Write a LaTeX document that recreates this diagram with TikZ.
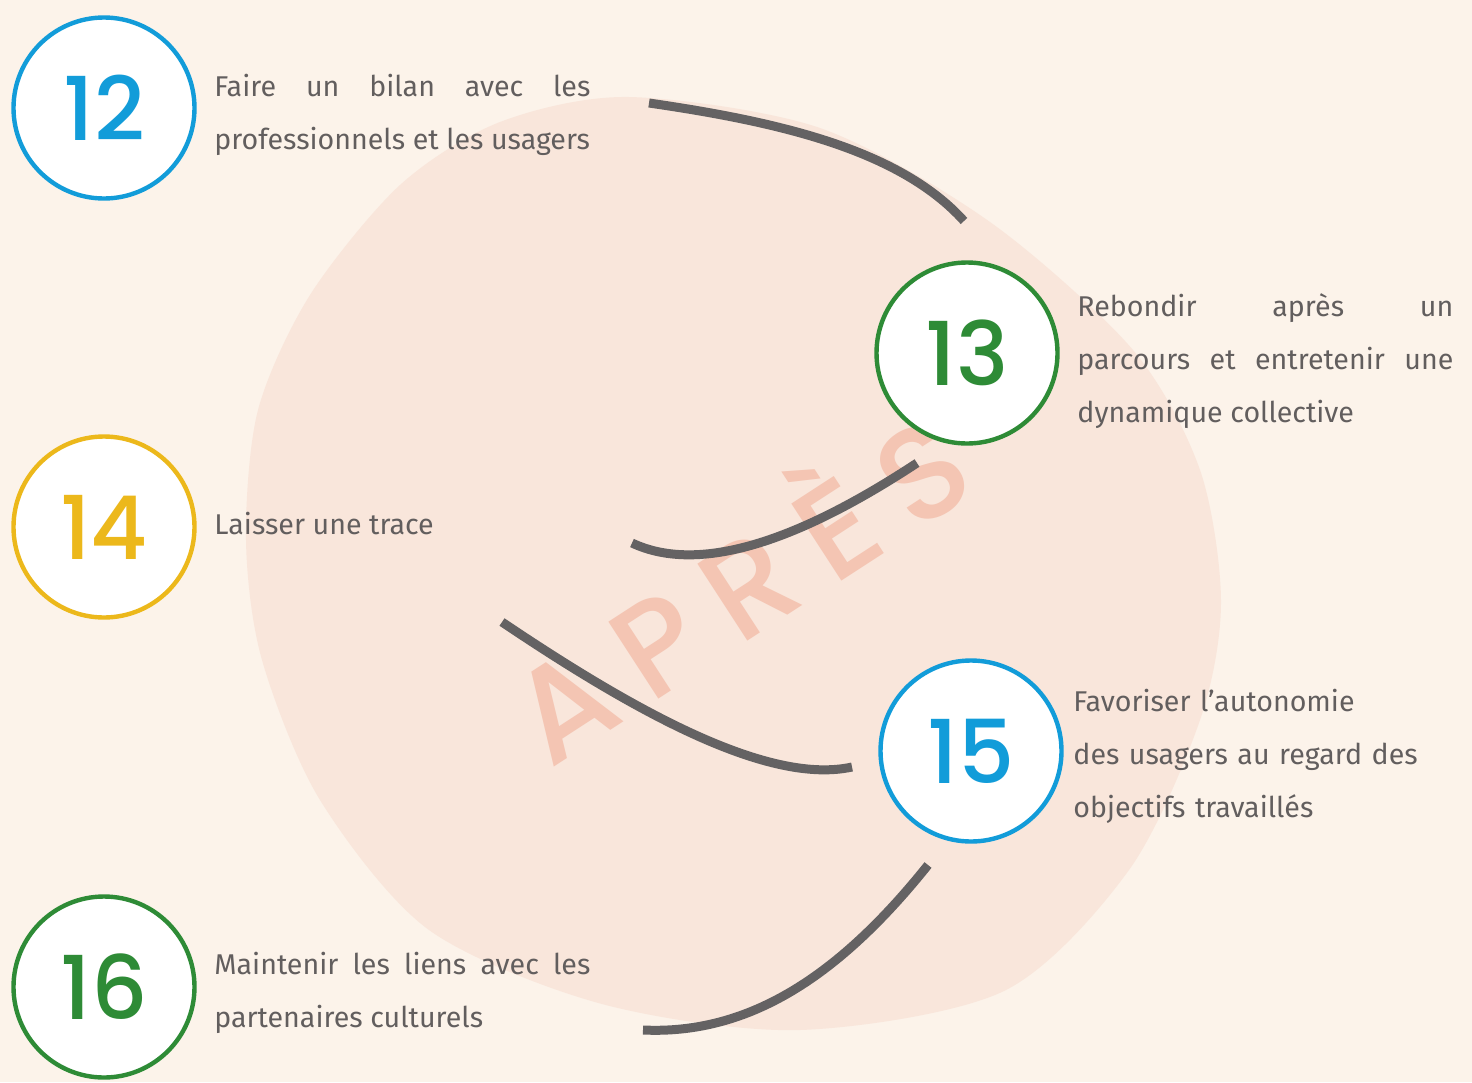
\documentclass[tikz,border=0pt]{standalone}
\usepackage{fontspec}
\setmainfont{Fira Sans}
\newfontfamily\numfont{Poppins}[UprightFont=* Medium]
\definecolor{fond}{HTML}{FCF3EA}
\definecolor{tache}{HTML}{F9E6DB}
\definecolor{filigrane}{HTML}{F4C5B3}
\definecolor{trait}{HTML}{646263}
\definecolor{texte}{HTML}{625E5E}
\definecolor{bleu}{HTML}{129CD9}
\definecolor{vert}{HTML}{2E8B36}
\definecolor{jaune}{HTML}{ECB81B}
\tikzset{
  etape/.style={circle, draw=#1, line width=2.2pt, fill=white, minimum size=90.5pt, inner sep=0pt, text=#1, font=\numfont\fontsize{44}{44}\selectfont},
  legende/.style={anchor=base west, inner sep=0pt, text=texte, font=\fontsize{14.3}{26.5}\selectfont},
  bloc/.style={legende, text width=188pt, align=justify},
  swoosh/.style={draw=trait, line width=4.5pt},
}
\begin{document}
\begin{tikzpicture}[x=0.5pt, y=-0.5pt, line join=round]
\useasboundingbox (0,0) rectangle (1472,1082);
\fill[fond] (0,0) rectangle (1472,1082);
% la tache de fond
\fill[tache] plot[smooth cycle] coordinates {(629,97) (820,128) (990,222) (1133,350) (1200,470) (1221,602) (1200,720) (1129,870) (1004,991) (800,1030) (602,1004) (429,930) (320,800) (262,660) (246,540) (258,410) (310,295) (400,185) (500,122)};
\node[rotate=33, anchor=base, text=filigrane, font=\numfont\fontsize{66}{66}\selectfont\addfontfeature{LetterSpace=21}] (apres) at (766,630) {APRÈS};
% les traits
\coordinate (a1) at (649,103); \coordinate (b1) at (964,221);
\coordinate (a2) at (632,543); \coordinate (b2) at (917,463);
\coordinate (a3) at (502,622); \coordinate (b3) at (852,767);
\coordinate (a4) at (928,865); \coordinate (b4) at (643,1030);
\draw[swoosh] (a1) .. controls (780,122) and (900,150) .. (b1);
\draw[swoosh] (a2) .. controls (700,575) and (800,540) .. (b2);
\draw[swoosh] (a3) .. controls (640,715) and (770,785) .. (b3);
\draw[swoosh] (a4) .. controls (840,975) and (750,1035) .. (b4);
% les etapes
\node[etape=bleu] (e12) at (104,108) {12};
\node[etape=vert] (e13) at (967,353) {13};
\node[etape=jaune] (e14) at (104,527) {14};
\node[etape=bleu] (e15) at (971,751) {15};
\node[etape=vert] (e16) at (104,987) {16};
\node[bloc] (t12) at (214,96) {Faire un bilan avec les\linebreak professionnels et les usagers};
\node[bloc] (t13) at (1077,316) {Rebondir après un\linebreak parcours et entretenir une\linebreak dynamique collective};
\node[legende] (t14) at (214,534) {Laisser une trace};
\node[legende, text width=188pt, align=left] (t15) at (1073,711) {Favoriser l'autonomie\\des usagers au regard des\\objectifs travaillés};
\node[bloc] (t16) at (214,974) {Maintenir les liens avec les\linebreak partenaires culturels};
\end{tikzpicture}
\end{document}
